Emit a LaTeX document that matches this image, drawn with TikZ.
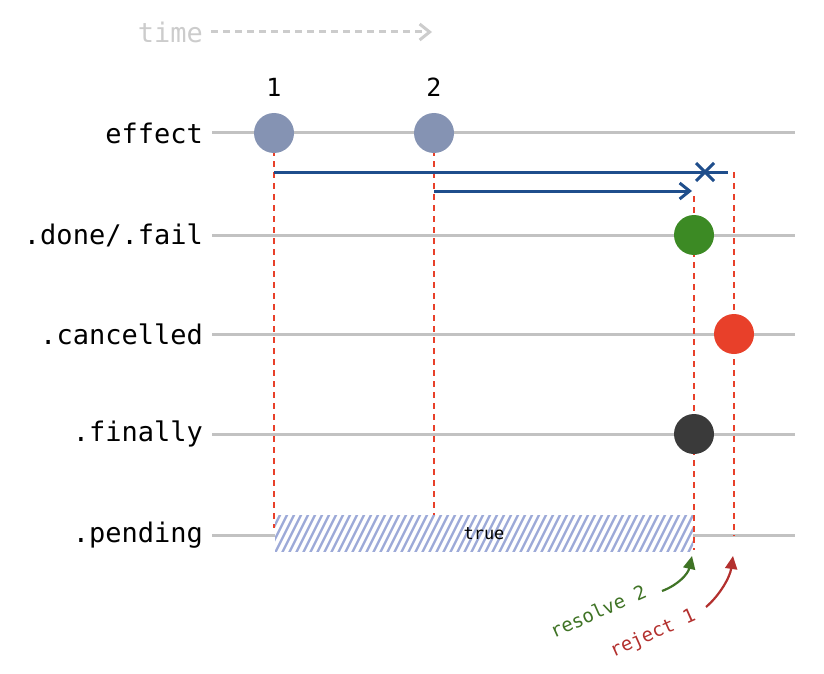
\documentclass[tikz,border=0pt]{standalone}
\usepackage{fontspec}
\setmonofont{DejaVu Sans Mono}
\usetikzlibrary{arrows.meta}
\definecolor{rail}{HTML}{C2C2C2}
\definecolor{evt}{HTML}{8593B3}
\definecolor{okgreen}{HTML}{3C8A24}
\definecolor{errred}{HTML}{E8402A}
\definecolor{darkdot}{HTML}{3A3A3A}
\definecolor{flow}{HTML}{1F4E8C}
\definecolor{hatch}{HTML}{9DAAD8}
\definecolor{guide}{HTML}{E8402A}
\definecolor{faint}{HTML}{CCCCCC}
\definecolor{resolvec}{HTML}{3F7325}
\definecolor{rejectc}{HTML}{B3302E}
\tikzset{
  rowlabel/.style={font=\ttfamily\fontsize{27}{27}\selectfont, anchor=east, inner sep=0pt},
  railline/.style={rail, line width=3pt},
  dot/.style={circle, minimum size=40pt, inner sep=0pt},
  guideline/.style={guide, dashed, dash pattern=on 6pt off 5pt, line width=1.4pt},
  flowline/.style={flow, line width=3pt},
  note/.style={font=\ttfamily\fontsize{19}{19}\selectfont, inner sep=0pt},
}
\begin{document}
\begin{tikzpicture}[x=1pt,y=-1pt]
\useasboundingbox (0,0) rectangle (824,674);

% time axis
\node[font=\ttfamily\fontsize{27}{27}\selectfont, text=faint, anchor=east, inner sep=0pt] (time) at (203,32) {time};
\coordinate (timeend) at (432,32);
\draw[faint, line width=3pt, dash pattern=on 7pt off 5pt, -{Straight Barb[length=10pt,width=16pt]}] ([xshift=8pt]time.east) -- (timeend);

% rows
\foreach \name/\lab/\y in {eff/{effect}/133, done/{.done/.fail}/235, canc/{.cancelled}/334, fin/{.finally}/434, pend/{.pending}/535}{
  \node[rowlabel] (\name) at (203,\y) {\lab};
  \coordinate (\name end) at (795,\y);
  \draw[railline] (212,\y) -- (\name end);
}

% pending = true bar
\coordinate (barA) at (275,515);
\coordinate (barB) at (693,551);
\begin{scope}
  \clip (barA) rectangle (barB);
  \fill[white] (barA) rectangle (barB);
  \foreach \x in {240,247,...,700}{
    \draw[hatch, line width=2.4pt] (\x,553) -- (\x+20,513);
  }
\end{scope}
\node[note, font=\ttfamily\fontsize{17}{17}\selectfont] (truelab) at (484,534) {true};

% guide lines
\draw[guideline] (274,150) -- (274,528);
\draw[guideline] (434,150) -- (434,515);
\draw[guideline] (694,196) -- (694,550);
\draw[guideline] (734,172) -- (734,536);

% effect calls
\node[dot, fill=evt] (e1) at (274,133) {};
\node[dot, fill=evt] (e2) at (434,133) {};
\node[font=\ttfamily\fontsize{25}{25}\selectfont] (n1) at (274,87) {1};
\node[font=\ttfamily\fontsize{25}{25}\selectfont] (n2) at (434,87) {2};

% outcomes
\node[dot, fill=okgreen] (ok) at (694,235) {};
\node[dot, fill=errred] (cx) at (734,334) {};
\node[dot, fill=darkdot] (fi) at (694,434) {};

% flows
\coordinate (f1s) at (274,172);
\coordinate (f1e) at (728,172);
\coordinate (xm) at (705,172);
\draw[flowline] (f1s) -- (f1e);
\draw[flowline] ([shift={(-9,-9)}]xm) -- ([shift={(9,9)}]xm);
\draw[flowline] ([shift={(-9,9)}]xm) -- ([shift={(9,-9)}]xm);
\coordinate (f2s) at (434,191);
\coordinate (f2e) at (692,191);
\draw[flowline, -{Straight Barb[length=10pt,width=16pt,line width=3pt]}] (f2s) -- (f2e);

% annotations
\node[note, text=resolvec, rotate=24] (res) at (598,611) {resolve 2};
\node[note, text=rejectc, rotate=24] (rej) at (653,634) {reject 1};
\coordinate (restip) at (692,556);
\coordinate (rejtip) at (733,556);
\draw[resolvec, line width=2.2pt, -{Triangle[length=13pt,width=12pt]}] (662,591) .. controls (678,585) and (688,574) .. (restip);
\draw[rejectc, line width=2.2pt, -{Triangle[length=13pt,width=12pt]}] (706,607) .. controls (720,595) and (730,577) .. (rejtip);
\end{tikzpicture}
\end{document}
